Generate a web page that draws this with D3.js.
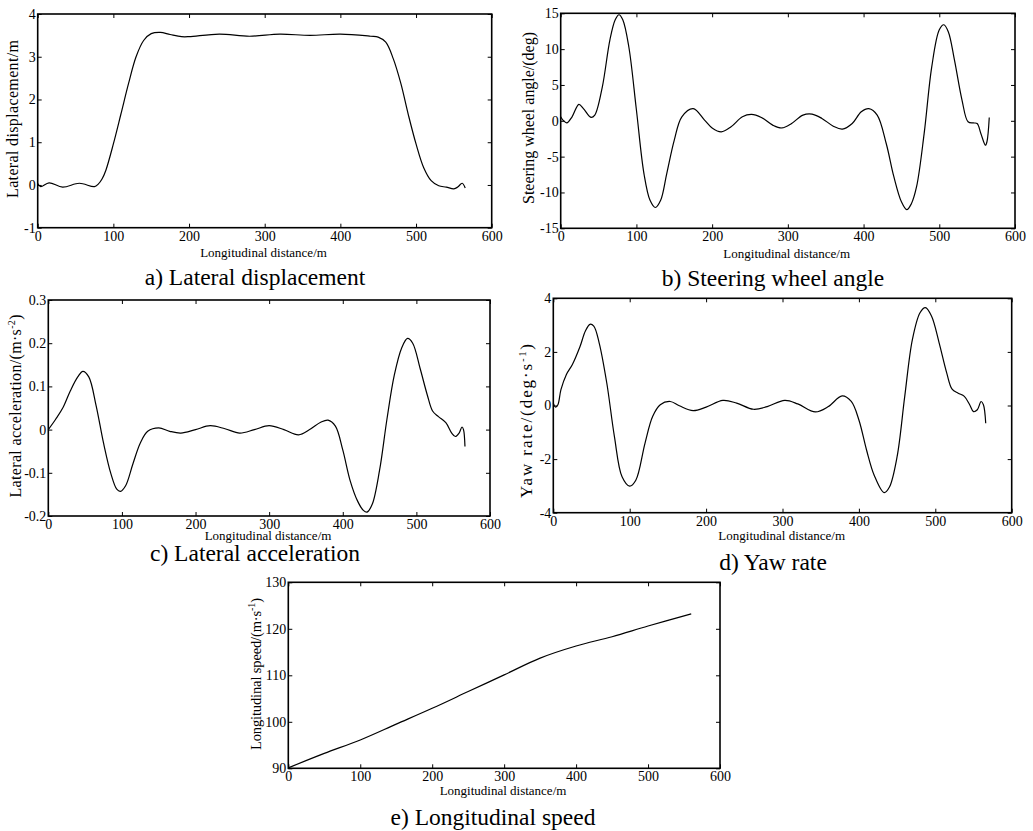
<!DOCTYPE html>
<html>
<head>
<meta charset="utf-8">
<script src="https://cdn.jsdelivr.net/npm/d3@7"></script>
<style>
  body { margin: 0; background: #fff; }
  svg { display: block; }
  text { font-family: "Liberation Serif", "Times New Roman", serif; fill: #000; }
</style>
</head>
<body>
<svg width="1033" height="831"></svg>
<script>
// x axis ticks shared by every panel
var distTicks = [0, 100, 200, 300, 400, 500, 600];

// a) lateral displacement
var distA = [0, 4, 15, 33, 55, 75, 80, 85, 90, 100, 110, 120, 130, 140, 150, 162, 175, 190, 200, 240, 280, 320, 360, 400, 440, 450, 460, 470, 480, 490, 500, 510, 520, 530, 540, 550, 555, 561, 565];
var dispA = [0.03, -0.04, 0.05, -0.05, 0.04, -0.04, 0.02, 0.14, 0.34, 0.96, 1.66, 2.37, 3.0, 3.38, 3.54, 3.57, 3.52, 3.47, 3.47, 3.53, 3.48, 3.53, 3.50, 3.53, 3.48, 3.46, 3.34, 2.95, 2.37, 1.63, 0.96, 0.41, 0.10, -0.02, -0.05, -0.09, -0.05, 0.04, -0.07];
var ticksA = [-1, 0, 1, 2, 3, 4];

// b) steering wheel angle
var distB = [0, 3, 8, 15, 24, 30, 40, 45, 55, 65, 72, 77, 82, 90, 100, 110, 118, 125, 132, 140, 150, 160, 175, 190, 200, 212, 225, 240, 252, 265, 280, 292, 305, 320, 332, 345, 360, 372, 385, 397, 407, 418, 430, 440, 450, 457, 463, 470, 480, 490, 500, 506, 512, 520, 530, 538, 545, 550, 555, 561, 563, 566];
var angleB = [0.56, 0.1, -0.3, 0.56, 2.3, 1.7, 0.47, 0.8, 4.75, 11.3, 14.1, 14.8, 14.1, 10.3, 1.5, -7.4, -11.1, -12.1, -11.1, -7.4, -2.7, 0.56, 1.7, 0.1, -1.0, -1.55, -0.84, 0.56, 0.89, 0.47, -0.6, -1.0, -0.37, 0.8, 0.93, 0.33, -0.75, -1.17, -0.37, 1.26, 1.7, 0.8, -3.2, -7.8, -11.3, -12.4, -11.6, -9.2, -1.8, 7.5, 12.7, 13.4, 12.4, 8.5, 2.9, -0.14, -0.3, -0.37, -1.8, -3.4, -2.9, 0.47];
var ticksB = [-15, -10, -5, 0, 5, 10, 15];

// c) lateral acceleration
var distC = [0, 10, 20, 30, 40, 47, 55, 65, 75, 85, 93, 98, 105, 115, 125, 135, 150, 165, 180, 200, 220, 240, 260, 280, 300, 320, 340, 355, 370, 380, 390, 400, 410, 420, 428, 433, 440, 450, 460, 470, 480, 488, 495, 505, 515, 522, 530, 540, 548, 553, 558, 562, 564, 566];
var accC = [0, 0.024, 0.051, 0.09, 0.122, 0.135, 0.122, 0.055, -0.031, -0.102, -0.138, -0.143, -0.13, -0.079, -0.031, -0.004, 0.004, -0.004, -0.008, 0, 0.009, 0.002, -0.008, 0, 0.009, 0, -0.012, 0, 0.017, 0.022, 0.008, -0.047, -0.118, -0.165, -0.187, -0.191, -0.173, -0.094, 0.024, 0.126, 0.189, 0.211, 0.2, 0.142, 0.079, 0.043, 0.03, 0.016, -0.008, -0.016, -0.008, 0.006, 0, -0.039];
var ticksC = [-0.2, -0.1, 0, 0.1, 0.2, 0.3];

// d) yaw rate
var distD = [0, 3, 6, 10, 17, 25, 35, 42, 48, 53, 60, 70, 80, 90, 100, 108, 120, 130, 140, 153, 165, 183, 200, 222, 240, 262, 280, 303, 320, 343, 360, 378, 390, 400, 410, 420, 433, 440, 450, 460, 470, 480, 487, 495, 505, 515, 522, 530, 538, 545, 550, 555, 560, 563, 566];
var yawD = [0.09, -0.06, 0.03, 0.59, 1.15, 1.53, 2.2, 2.78, 3.03, 2.96, 2.34, 0.84, -1.16, -2.66, -3.01, -2.79, -1.41, -0.41, 0.03, 0.15, -0.01, -0.19, -0.06, 0.19, 0.09, -0.14, -0.04, 0.19, 0.06, -0.24, -0.04, 0.36, 0.15, -0.54, -1.66, -2.6, -3.25, -3.04, -1.91, 0.34, 2.46, 3.46, 3.65, 3.34, 2.34, 1.21, 0.61, 0.46, 0.34, 0.03, -0.23, -0.16, 0.15, 0.03, -0.66];
var ticksD = [-4, -2, 0, 2, 4];

// e) longitudinal speed
var distE = [0, 50, 100, 150, 200, 250, 300, 350, 400, 450, 500, 560];
var speedE = [90.1, 93.2, 96.1, 99.5, 102.9, 106.5, 110.1, 113.7, 116.3, 118.3, 120.6, 123.2];
var ticksE = [90, 100, 110, 120, 130];

var svg = d3.select("svg");
var fontStack = "'Liberation Serif', 'Times New Roman', serif";

// ylab: baseline x, centre y, length, font size, text, superscript, tail
var panels = [
  { xs: distA, ys: dispA, ticks: ticksA, left: 37.7, right: 491.7, top: 14, bottom: 227.7,
    xlab: [263.5, 257], cap: [255, 285, "a) Lateral displacement"],
    ylab: [18, 119, 158, 16, "Lateral displacement/m", null, null] },
  { xs: distB, ys: angleB, ticks: ticksB, left: 560.7, right: 1015, top: 13.3, bottom: 228.3,
    xlab: [786.7, 258], cap: [773, 286, "b) Steering wheel angle"],
    ylab: [534, 118, 172, 16, "Steering wheel angle/(deg)", null, null] },
  { xs: distC, ys: accC, ticks: ticksC, left: 48.3, right: 490, top: 300, bottom: 516,
    xlab: [268, 539.5], cap: [255, 561, "c) Lateral acceleration"],
    ylab: [21, 406, 183, 16, "Lateral acceleration/(m\u00b7s", "-2", ")"] },
  { xs: distD, ys: yawD, ticks: ticksD, left: 553.3, right: 1011.7, top: 298.3, bottom: 512.7,
    xlab: [781.7, 540], cap: [773, 570, "d) Yaw rate"],
    ylab: [532, 421, 154, 17, "Yaw rate/(deg\u00b7s", "-1", ")"] },
  { xs: distE, ys: speedE, ticks: ticksE, left: 288.3, right: 720, top: 582.3, bottom: 768.3,
    xlab: [503, 795], cap: [493, 825, "e) Longitudinal speed"],
    ylab: [260.5, 674, 152, 14.5, "Longitudinal speed/(m\u00b7s", "-1", ")"] }
];

panels.forEach(drawPanel);

function styleAxis(g) {
  g.attr("font-family", fontStack).attr("font-size", 14);
  g.select(".domain").remove();
  g.selectAll(".tick line").attr("stroke", "#000");
}

function drawPanel(p) {
  var x = d3.scaleLinear().domain([0, 600]).range([p.left, p.right]);
  var y = d3.scaleLinear()
    .domain([p.ticks[0], p.ticks[p.ticks.length - 1]])
    .range([p.bottom, p.top]);

  var g = svg.append("g");

  g.append("g")
    .attr("transform", "translate(0," + p.bottom + ")")
    .call(d3.axisBottom(x).tickValues(distTicks).tickSizeInner(-4).tickSizeOuter(0)
      .tickPadding(3).tickFormat(function(d) { return String(d); }))
    .call(styleAxis);

  g.append("g")
    .attr("transform", "translate(0," + p.top + ")")
    .call(d3.axisTop(x).tickValues(distTicks).tickSizeInner(-4).tickSizeOuter(0).tickFormat(""))
    .call(styleAxis);

  g.append("g")
    .attr("transform", "translate(" + p.left + ",0)")
    .call(d3.axisLeft(y).tickValues(p.ticks).tickSizeInner(-4).tickSizeOuter(0)
      .tickPadding(2).tickFormat(function(d) { return String(d); }))
    .call(styleAxis);

  g.append("g")
    .attr("transform", "translate(" + p.right + ",0)")
    .call(d3.axisRight(y).tickValues(p.ticks).tickSizeInner(-4).tickSizeOuter(0).tickFormat(""))
    .call(styleAxis);

  g.append("rect")
    .attr("x", p.left)
    .attr("y", p.top)
    .attr("width", p.right - p.left)
    .attr("height", p.bottom - p.top)
    .attr("fill", "none")
    .attr("stroke", "#000")
    .attr("stroke-width", 1.6);

  var line = d3.line()
    .x(function(d) { return x(d[0]); })
    .y(function(d) { return y(d[1]); })
    .curve(d3.curveCatmullRom.alpha(0.5));

  g.append("path")
    .datum(d3.zip(p.xs, p.ys))
    .attr("d", line)
    .attr("fill", "none")
    .attr("stroke", "#000")
    .attr("stroke-width", 1.2);

  g.append("text")
    .attr("x", p.xlab[0])
    .attr("y", p.xlab[1])
    .attr("text-anchor", "middle")
    .attr("font-size", 13)
    .text("Longitudinal distance/m");

  g.append("text")
    .attr("x", p.cap[0])
    .attr("y", p.cap[1])
    .attr("text-anchor", "middle")
    .attr("font-size", 23.5)
    .text(p.cap[2]);

  var yl = g.append("text")
    .attr("transform", "translate(" + p.ylab[0] + "," + p.ylab[1] + ") rotate(-90)")
    .attr("text-anchor", "middle")
    .attr("font-size", p.ylab[3])
    .attr("textLength", p.ylab[2])
    .attr("lengthAdjust", "spacing");
  yl.append("tspan").text(p.ylab[4]);
  if (p.ylab[5]) {
    yl.append("tspan").attr("font-size", 10).attr("dy", -6).text(p.ylab[5]);
    yl.append("tspan").attr("dy", 6).text(p.ylab[6]);
  }
}
</script>
</body>
</html>
